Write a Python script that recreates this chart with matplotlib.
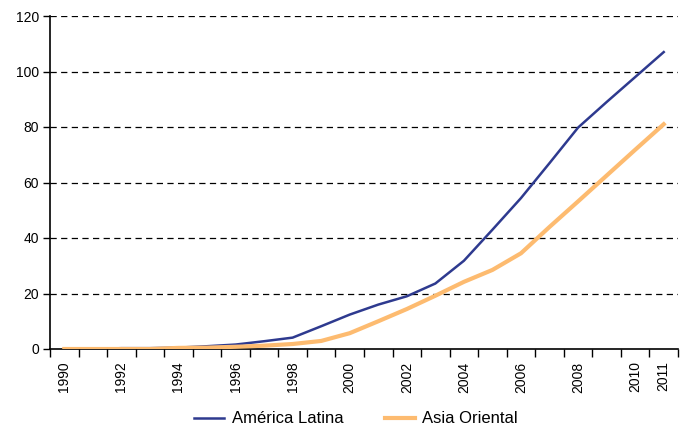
import numpy as np
import matplotlib
matplotlib.use("Agg")
import matplotlib.pyplot as plt

# data
years = list(range(1990, 2012))
america_latina = [0, 0, 0.3, 0.3, 0.5, 1.0, 1.6, 2.8, 4.1, 8.2, 12.4, 16.0, 19.0, 23.6,
                  31.8, 43.0, 54.4, 67.0, 79.8, 89.0, 98.0, 107.0]
asia_oriental = [0, 0, 0, 0, 0.4, 0.5, 0.8, 1.2, 1.8, 2.9, 5.7, 10.0, 14.4, 19.2,
                 24.2, 28.5, 34.5, 44.0, 53.2, 62.5, 71.8, 81.0]
label_years = [1990, 1992, 1994, 1996, 1998, 2000, 2002, 2004, 2006, 2008, 2010, 2011]
y_ticks = [0, 20, 40, 60, 80, 100, 120]

plt.rcParams['font.family'] = ['Liberation Sans', 'DejaVu Sans']

fig = plt.figure(figsize=(6.82, 4.26), dpi=100)
ax = fig.add_axes([50/682, 1-349/426, 628/682, 333/426])

x = np.arange(len(years))
ax.plot(x, america_latina, color="#2E3A8F", lw=1.8, label="América Latina", zorder=3)
ax.plot(x, asia_oriental, color="#FDBB70", lw=3.0, label="Asia Oriental", zorder=3)

ax.set_xlim(-0.5, len(years)-0.5)
ax.set_ylim(0, 120)

# y axis
ax.set_yticks(y_ticks)
ax.tick_params(axis='y', direction='out', length=5, width=1, labelsize=10, pad=3)
for v in y_ticks[1:]:
    ax.axhline(v, color="black", lw=0.9, dashes=(5, 3.5), zorder=1)

# x axis: marks between categories, labels at centers
ax.set_xticks(np.arange(-0.5, len(years)), minor=True)
ax.set_xticks([years.index(y) for y in label_years])
ax.set_xticklabels([str(y) for y in label_years], rotation=90, fontsize=10)
ax.tick_params(axis='x', which='major', length=0, pad=9)
ax.tick_params(axis='x', which='minor', direction='out', length=6, width=1)

for s in ['top', 'right']:
    ax.spines[s].set_visible(False)
for s in ['left', 'bottom']:
    ax.spines[s].set_linewidth(1.2)

fig.legend(loc='lower center', ncol=2, frameon=False, fontsize=12,
           bbox_to_anchor=(0.522, -0.036), handlelength=1.8, handletextpad=0.45,
           columnspacing=2.5)

fig.savefig("out.png", dpi=100)
